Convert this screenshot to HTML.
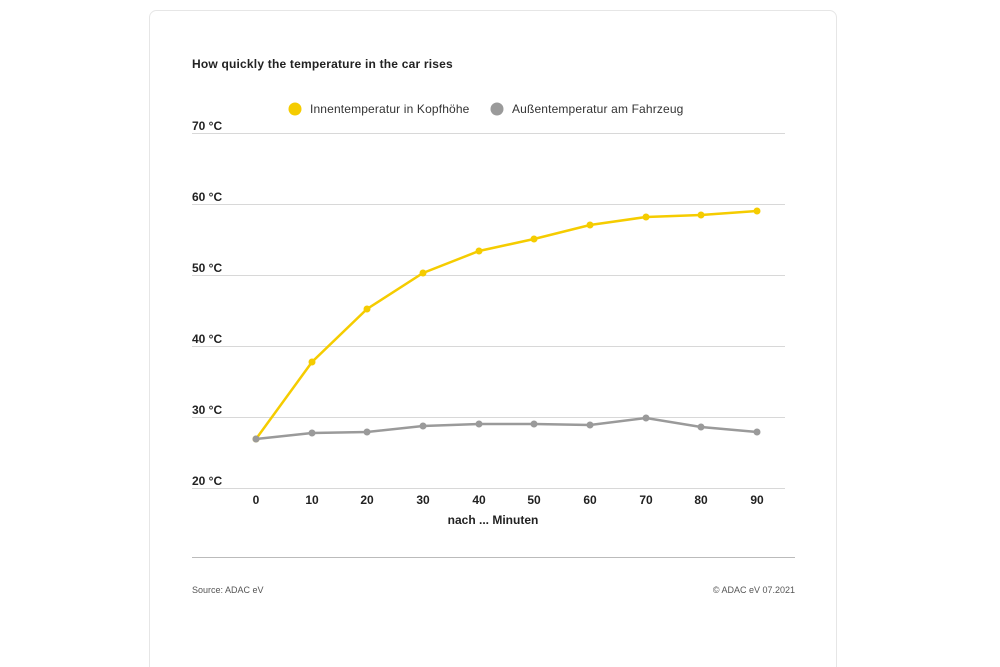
<!DOCTYPE html>
<html><head><meta charset="utf-8"><style>
html,body{margin:0;padding:0;background:#fff;width:1000px;height:667px;overflow:hidden}
svg{display:block;font-family:"Liberation Sans",sans-serif}
</style></head><body>
<svg width="1000" height="667" viewBox="0 0 1000 667">
<rect x="149.5" y="10.5" width="687" height="670" rx="7" fill="#fff" stroke="#e6e6e6"/>
<text x="192" y="68" font-size="12" font-weight="bold" fill="#222" letter-spacing="0.2">How quickly the temperature in the car rises</text>
<circle cx="295" cy="109" r="6.5" fill="#f5cc00"/>
<text x="310" y="113" font-size="12" fill="#333" letter-spacing="0.15">Innentemperatur in Kopfhöhe</text>
<circle cx="497" cy="109" r="6.5" fill="#9a9a9a"/>
<text x="512" y="113" font-size="12" fill="#333" letter-spacing="0.15">Außentemperatur am Fahrzeug</text>
<g stroke="#d8d8d8" stroke-width="1">
<line x1="192" x2="785" y1="133.5" y2="133.5"/>
<line x1="192" x2="785" y1="204.5" y2="204.5"/>
<line x1="192" x2="785" y1="275.5" y2="275.5"/>
<line x1="192" x2="785" y1="346.5" y2="346.5"/>
<line x1="192" x2="785" y1="417.5" y2="417.5"/>
<line x1="192" x2="785" y1="488.5" y2="488.5"/>
</g>
<g font-size="12" font-weight="bold" fill="#222">
<text x="192" y="130">70 °C</text>
<text x="192" y="201">60 °C</text>
<text x="192" y="272">50 °C</text>
<text x="192" y="343">40 °C</text>
<text x="192" y="414">30 °C</text>
<text x="192" y="485">20 °C</text>
</g>
<g font-size="12" font-weight="bold" fill="#222" text-anchor="middle">
<text x="256" y="504">0</text><text x="312" y="504">10</text><text x="367" y="504">20</text><text x="423" y="504">30</text><text x="479" y="504">40</text><text x="534" y="504">50</text><text x="590" y="504">60</text><text x="646" y="504">70</text><text x="701" y="504">80</text><text x="757" y="504">90</text>
<text x="493" y="524">nach ... Minuten</text>
</g>
<polyline fill="none" stroke="#f5cc00" stroke-width="2.5" points="256,439 312,362 367,309 423,273 479,251 534,239 590,225 646,217 701,215 757,211"/>
<g fill="#f5cc00"><circle cx="256" cy="439" r="3.5"/><circle cx="312" cy="362" r="3.5"/><circle cx="367" cy="309" r="3.5"/><circle cx="423" cy="273" r="3.5"/><circle cx="479" cy="251" r="3.5"/><circle cx="534" cy="239" r="3.5"/><circle cx="590" cy="225" r="3.5"/><circle cx="646" cy="217" r="3.5"/><circle cx="701" cy="215" r="3.5"/><circle cx="757" cy="211" r="3.5"/></g>
<polyline fill="none" stroke="#9a9a9a" stroke-width="2.5" points="256,439 312,433 367,432 423,426 479,424 534,424 590,425 646,418 701,427 757,432"/>
<g fill="#9a9a9a"><circle cx="256" cy="439" r="3.5"/><circle cx="312" cy="433" r="3.5"/><circle cx="367" cy="432" r="3.5"/><circle cx="423" cy="426" r="3.5"/><circle cx="479" cy="424" r="3.5"/><circle cx="534" cy="424" r="3.5"/><circle cx="590" cy="425" r="3.5"/><circle cx="646" cy="418" r="3.5"/><circle cx="701" cy="427" r="3.5"/><circle cx="757" cy="432" r="3.5"/></g>
<line x1="192" x2="795" y1="557.5" y2="557.5" stroke="#bbb"/>
<text x="192" y="593" font-size="9" fill="#555">Source: ADAC eV</text>
<text x="795" y="593" font-size="9" fill="#555" text-anchor="end">© ADAC eV 07.2021</text>
</svg>
</body></html>
